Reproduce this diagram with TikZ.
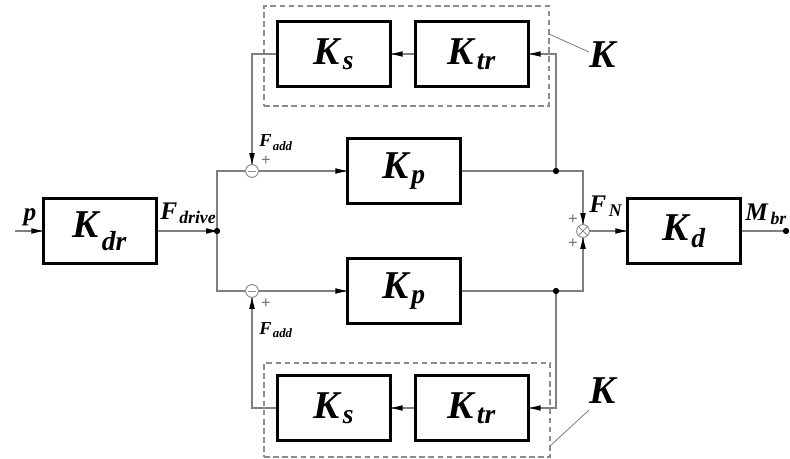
\documentclass[tikz,border=0pt]{standalone}
\usepackage{fontspec}
\setmainfont{Liberation Serif}
\usepackage{tikz}
\usetikzlibrary{arrows.meta, positioning}

\begin{document}
\begin{tikzpicture}[
x=0.025cm, y=-0.025cm,
font=\bfseries\itshape,
blockbox/.style={
rectangle,
draw=black,
line width=1.8pt,
minimum width=2.82cm,
minimum height=1.62cm,
inner sep=0pt,
font=\fontsize{28}{30}\selectfont\bfseries\itshape
},
sumnode/.style={
circle,
draw=black!45,
line width=0.7pt,
minimum size=0.32cm,
inner sep=0pt
},
groupbox/.style={
rectangle,
draw=black!45,
line width=0.8pt,
dash pattern=on 4pt off 2.5pt,
inner sep=0pt
},
wire/.style={draw=black!50, line width=0.8pt},
dot/.style={circle, fill=black, inner sep=0pt, minimum size=4.5pt},
siglabel/.style={font=\fontsize{18}{20}\selectfont\bfseries\itshape, inner sep=0pt},
addlabel/.style={font=\fontsize{13}{14}\selectfont\bfseries\itshape, inner sep=0pt},
biglabel/.style={font=\fontsize{28}{30}\selectfont\bfseries\itshape, inner sep=0pt},
signlabel/.style={font=\fontsize{12}{12}\selectfont\bfseries, text=black!55, inner sep=0pt}
]
\useasboundingbox (0,0) rectangle (790,459);

% Blocks
\node[blockbox] (kdr) at (100,231) {K\kern2pt\raisebox{-4pt}{\textsubscript{dr}}};
\node[blockbox] (kpu) at (404,171) {K\kern2pt\textsubscript{p}};
\node[blockbox] (kpl) at (404,291) {K\kern2pt\textsubscript{p}};
\node[blockbox] (kd) at (684,231) {K\kern2pt\textsubscript{d}};
\node[blockbox] (ksu) at (334,54) {K\kern2pt\textsubscript{s}};
\node[blockbox] (ktru) at (472,54) {K\kern2pt\textsubscript{tr}};
\node[blockbox] (ksl) at (334,408) {K\kern2pt\textsubscript{s}};
\node[blockbox] (ktrl) at (472,408) {K\kern2pt\textsubscript{tr}};

% Dashed groups
\node[groupbox, minimum width=7.125cm, minimum height=2.5cm] (grpu) at (406.5,56) {};
\node[groupbox, minimum width=7.15cm, minimum height=2.35cm] (grpl) at (407,410) {};

% Summing points
\node[sumnode] (sumu) at (252,171) {};
\node[sumnode] (suml) at (252,291) {};
\node[sumnode] (sumn) at (583,231) {};
\draw[black!45, line width=0.6pt] ([xshift=2pt]sumu.west) -- ([xshift=-2pt]sumu.east);
\draw[black!45, line width=0.6pt] ([xshift=2pt]suml.west) -- ([xshift=-2pt]suml.east);
\draw[black!45, line width=0.6pt] (sumn.45) -- (sumn.225) (sumn.135) -- (sumn.315);

% Junctions and free ends
\coordinate (pin) at (15,231);
\coordinate (jdrive) at (217,231);
\coordinate (jtopr) at (556,171);
\coordinate (jbotr) at (556,291);
\coordinate (mout) at (786,231);
\coordinate (kptu) at (549,34);
\coordinate (kptl) at (550,446);

% Connectors
\draw[wire] (pin) -- (kdr.west);
\draw[wire] (kdr.east) -- (jdrive);
\draw[wire] (jdrive) |- (sumu.west);
\draw[wire] (jdrive) |- (suml.west);
\draw[wire] (sumu.east) -- (kpu.west);
\draw[wire] (suml.east) -- (kpl.west);
\draw[wire] (kpu.east) -- (jtopr) -| (sumn.north);
\draw[wire] (kpl.east) -- (jbotr) -| (sumn.south);
\draw[wire] (sumn.east) -- (kd.west);
\draw[wire] (kd.east) -- (mout);

% Feedback paths
\draw[wire] (jtopr) |- (ktru.east);
\draw[wire] (ktru.west) -- (ksu.east);
\draw[wire] (ksu.west) -| (sumu.north);
\draw[wire] (jbotr) |- (ktrl.east);
\draw[wire] (ktrl.west) -- (ksl.east);
\draw[wire] (ksl.west) -| (suml.south);

% Hand-drawn arrowheads
\foreach \t in {kdr.west, jdrive, kpu.west, kpl.west, kd.west}
\fill (\t) -- ++(-11,-2.8) -- ++(0,5.6) -- cycle;
\foreach \t in {ktru.east, ksu.east, ktrl.east, ksl.east}
\fill (\t) -- ++(11,-2.8) -- ++(0,5.6) -- cycle;
\foreach \t in {sumu.north, sumn.north}
\fill (\t) -- ++(-2.8,-11) -- ++(5.6,0) -- cycle;
\foreach \t in {suml.south, sumn.south}
\fill (\t) -- ++(-2.8,11) -- ++(5.6,0) -- cycle;

% Junction dots
\foreach \j in {jdrive, jtopr, jbotr, mout}
\node[dot] at (\j) {};

% Signal labels
\node[siglabel, anchor=base] (plab) at (30,221) {p};
\node[siglabel, anchor=base west] (fdrivelab) at (160,220) {F\kern1.5pt\textsubscript{drive}};
\node[siglabel, anchor=base west] (fnlab) at (589,213) {F\kern2pt\textsubscript{N}};
\node[siglabel, anchor=base west] (mbrlab) at (745,221) {M\kern2pt\textsubscript{br}};
\node[addlabel, anchor=base west] (faddu) at (259,147) {F\kern1pt\textsubscript{add}};
\node[addlabel, anchor=base west] (faddl) at (259,334) {F\kern1pt\textsubscript{add}};
\node[signlabel] (plusu) at (266,161) {+};
\node[signlabel] (plusl) at (266,304) {+};
\node[signlabel] (plusnu) at (573,220) {+};
\node[signlabel] (plusnl) at (573,244) {+};

% Group labels
\node[biglabel, anchor=base west] (klabu) at (589,68) {K};
\node[biglabel, anchor=base west] (klabl) at (589,403) {K};
\draw[black!50, line width=0.6pt] (kptu) -- (klabu.west |- 0,52);
\draw[black!50, line width=0.6pt] (kptl) -- (klabl.west |- 0,410);

\end{tikzpicture}
\end{document}
